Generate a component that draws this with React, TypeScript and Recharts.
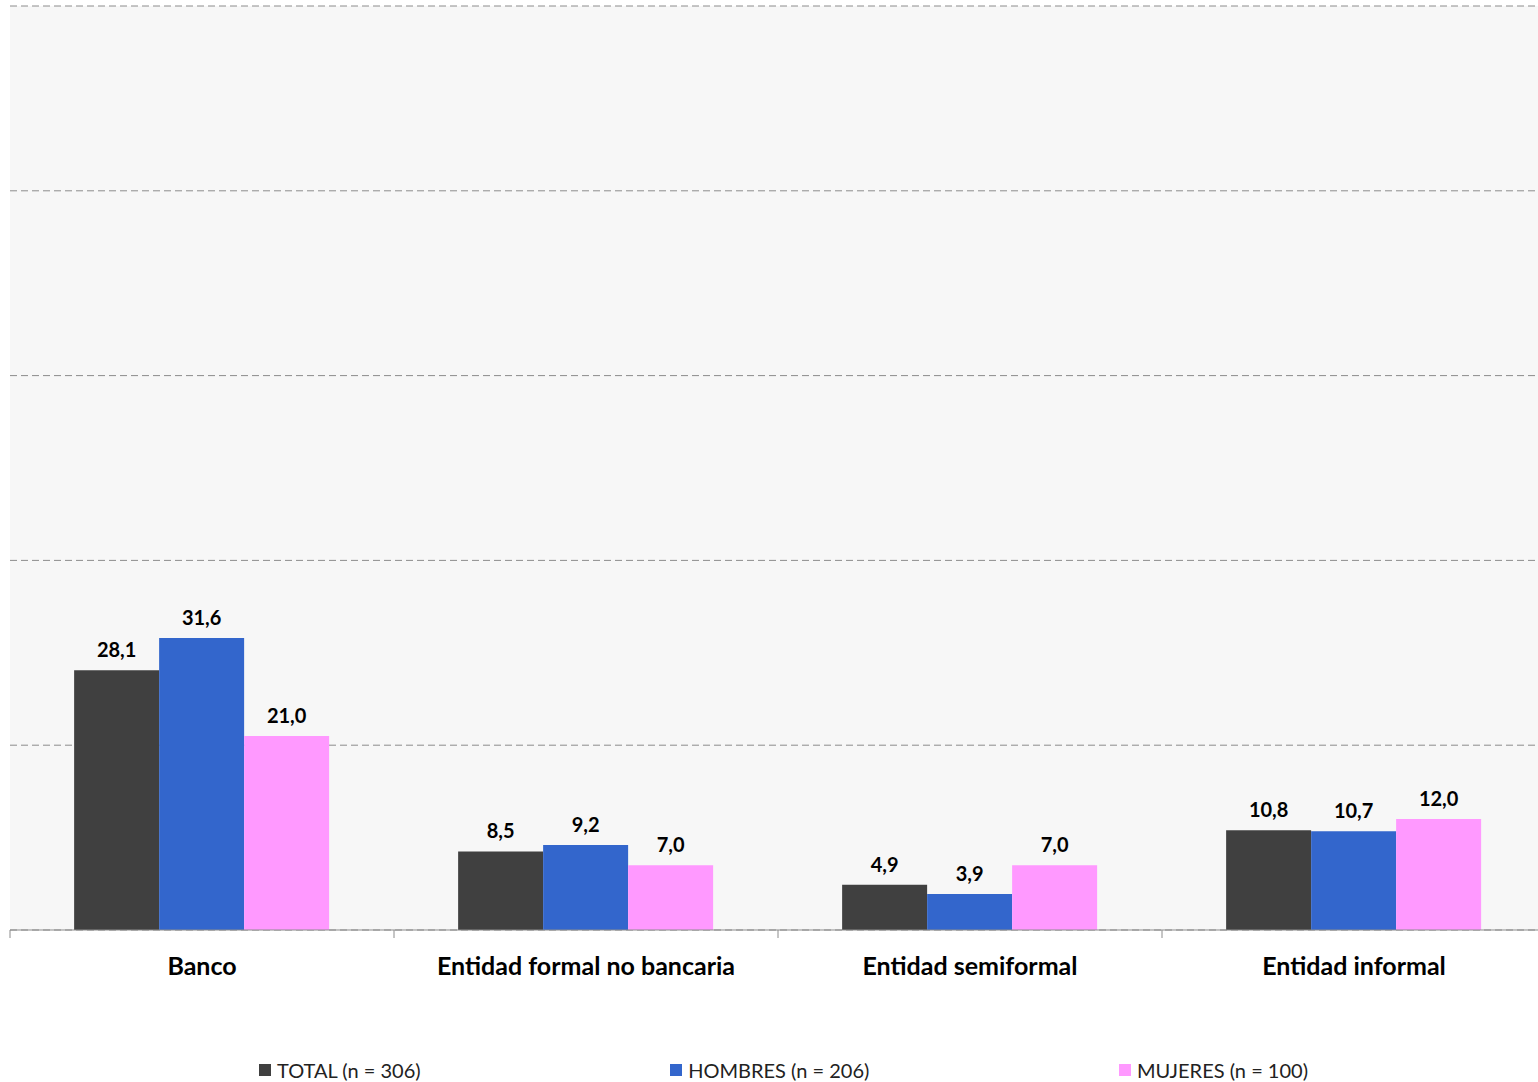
import { BarChart, Bar, XAxis, YAxis, CartesianGrid, Legend, LabelList } from 'recharts'

const categories = ['Banco', 'Entidad formal no bancaria', 'Entidad semiformal', 'Entidad informal']
const totalValues = [28.1, 8.5, 4.9, 10.8]
const hombresValues = [31.6, 9.2, 3.9, 10.7]
const mujeresValues = [21.0, 7.0, 7.0, 12.0]
const yTicks = [0, 20, 40, 60, 80, 100]

const seriesNames = ['TOTAL (n = 306)', 'HOMBRES (n = 206)', 'MUJERES (n = 100)']
const seriesColors = ['#404040', '#3366cc', '#ff99ff']

const data = categories.map((name, i) => ({
  name,
  idx: i + 0.5,
  total: totalValues[i],
  hombres: hombresValues[i],
  mujeres: mujeresValues[i],
}))

const font = 'Lato, "Open Sans", sans-serif'
const fmt = (v: number) => v.toFixed(1).replace('.', ',')

function LegendContent() {
  return (
    <div
      style={{
        marginLeft: 259,
        width: 1049,
        display: 'flex',
        justifyContent: 'space-between',
        fontFamily: font,
        fontSize: 20,
        color: '#222',
      }}
    >
      {seriesNames.map((n, i) => (
        <div key={n} style={{ display: 'flex', alignItems: 'center', whiteSpace: 'nowrap' }}>
          <span style={{ width: 12, height: 12, background: seriesColors[i], marginRight: 6, display: 'inline-block' }} />
          {n}
        </div>
      ))}
    </div>
  )
}

export default function App() {
  return (
    <div style={{ position: 'absolute', left: 0, top: 0, width: 1538, height: 1082, overflow: 'hidden', background: '#fff' }}>
      <BarChart
        width={1546}
        height={1082}
        data={data}
        margin={{ top: 6, right: 0, left: 10, bottom: 0 }}
        barCategoryGap="16.7%"
        barGap={0}
      >
        <CartesianGrid vertical={false} fill="#f7f7f7" stroke="#8c8c8c" strokeDasharray="7 4" yAxisId="y" xAxisId="b_cat" />
        <XAxis
          xAxisId="a_edge"
          type="number"
          dataKey="idx"
          domain={[0, 4]}
          ticks={[0, 1, 2, 3, 4]}
          tickFormatter={() => ''}
          stroke="#8c8c8c"
          tickSize={8}
          height={8}
        />
        <XAxis
          xAxisId="b_cat"
          dataKey="name"
          axisLine={false}
          tickLine={false}
          tickSize={0}
          tickMargin={19}
          height={120}
          interval={0}
          tick={{ fill: '#000', fontSize: 25, fontWeight: 700, fontFamily: font }}
        />
        <YAxis yAxisId="y" domain={[0, 100]} ticks={yTicks} hide />
        <Legend verticalAlign="bottom" content={<LegendContent />} wrapperStyle={{ left: 0, width: 1538 }} />
        {(['total', 'hombres', 'mujeres'] as const).map((key, i) => (
          <Bar
            key={key}
            dataKey={key}
            name={seriesNames[i]}
            fill={seriesColors[i]}
            xAxisId="b_cat"
            yAxisId="y"
            isAnimationActive={false}
          >
            <LabelList
              dataKey={key}
              position="top"
              offset={13}
              formatter={(v: any) => fmt(Number(v))}
              style={{ fill: '#000', fontSize: 20, fontWeight: 700, fontFamily: font }}
            />
          </Bar>
        ))}
      </BarChart>
    </div>
  )
}
